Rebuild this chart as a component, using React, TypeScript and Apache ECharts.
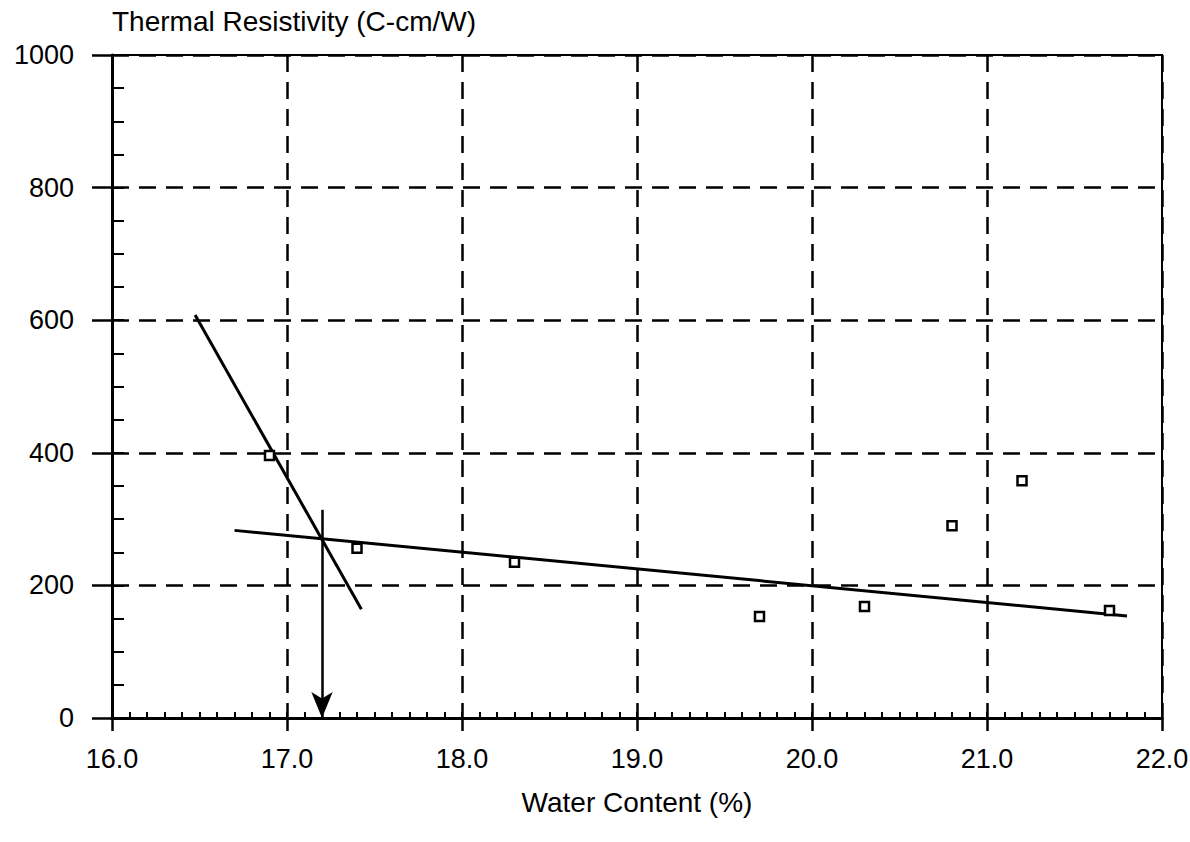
import React, { useEffect, useRef } from "react";
import * as echarts from "echarts";

// Measured data points (Water Content %, Thermal Resistivity C-cm/W)
const waterContent = [16.9, 17.4, 18.3, 19.7, 20.3, 20.8, 21.2, 21.7];
const resistivity = [396, 256, 235, 153, 168, 290, 358, 162];

// Fitted lines (end points)
const steepFitX = [16.475, 17.425];
const steepFitY = [608, 164];
const flatFitX = [16.7, 21.8];
const flatFitY = [283, 154];

// Critical water content arrow
const arrowX = 17.2;
const arrowTopY = 314;

const xTicks = [16, 17, 18, 19, 20, 21, 22];
const yTicks = [0, 200, 400, 600, 800, 1000];

const FONT = "'Liberation Sans', Arial, Helvetica, sans-serif";

export default function App() {
  const ref = useRef<HTMLDivElement>(null);
  useEffect(() => {
    if (!ref.current) return;
    const chart = echarts.init(ref.current, null, { renderer: "svg" });
    const black = "#000";
    const option: any = {
      animation: false,
      backgroundColor: "#fff",
      textStyle: { fontFamily: FONT },
      grid: {
        left: 112,
        right: 28,
        top: 55,
        bottom: 124,
        show: true,
        borderColor: black,
        borderWidth: 2,
        containLabel: false,
        outerBoundsMode: "none",
      },
      graphic: [
        {
          type: "text",
          x: 112,
          y: 21,
          style: {
            text: "Thermal Resistivity (C-cm/W)",
            font: `28px ${FONT}`,
            fill: black,
            verticalAlign: "middle",
          },
        },
        {
          type: "text",
          x: 637,
          y: 802,
          style: {
            text: "Water Content (%)",
            font: `28px ${FONT}`,
            fill: black,
            align: "center",
            verticalAlign: "middle",
          },
        },
      ],
      xAxis: [
        {
          type: "value",
          min: xTicks[0],
          max: xTicks[xTicks.length - 1],
          interval: 1,
          position: "bottom",
          axisLine: { show: true, onZero: false, lineStyle: { color: black, width: 3 } },
          axisTick: { show: true, length: 13, lineStyle: { color: black, width: 2.5 } },
          axisLabel: {
            margin: 27,
            fontSize: 27,
            color: black,
            fontFamily: FONT,
            formatter: (v: number) => v.toFixed(1),
          },
          splitLine: { show: true, lineStyle: { color: black, width: 2.5, type: [17, 10] } },
        },
        {
          type: "value",
          min: 16,
          max: 22,
          interval: 0.1,
          position: "bottom",
          axisLine: { show: false },
          axisLabel: { show: false },
          splitLine: { show: false },
          axisTick: { show: true, inside: true, length: 6, lineStyle: { color: black, width: 2 } },
        },
      ],
      yAxis: [
        {
          type: "value",
          min: yTicks[0],
          max: yTicks[yTicks.length - 1],
          interval: 200,
          position: "left",
          axisLine: { show: true, onZero: false, lineStyle: { color: black, width: 3 } },
          axisTick: { show: true, length: 20, lineStyle: { color: black, width: 2.5 } },
          axisLabel: {
            margin: 38,
            fontSize: 27,
            color: black,
            fontFamily: FONT,
            formatter: (v: number) => String(v),
          },
          splitLine: { show: true, lineStyle: { color: black, width: 2.5, type: [17, 10] } },
        },
        {
          type: "value",
          min: 0,
          max: 1000,
          interval: 50,
          position: "left",
          axisLine: { show: false },
          axisLabel: { show: false },
          splitLine: { show: false },
          axisTick: { show: true, inside: true, length: 12, lineStyle: { color: black, width: 2 } },
        },
      ],
      series: [
        {
          type: "line",
          xAxisIndex: 0,
          yAxisIndex: 0,
          data: steepFitX.map((x, i) => [x, steepFitY[i]]),
          symbol: "none",
          lineStyle: { color: black, width: 3 },
          z: 3,
        },
        {
          type: "line",
          xAxisIndex: 0,
          yAxisIndex: 0,
          data: flatFitX.map((x, i) => [x, flatFitY[i]]),
          symbol: "none",
          lineStyle: { color: black, width: 3 },
          z: 3,
          markLine: {
            silent: true,
            symbol: ["none", "arrow"],
            symbolSize: [16, 26],
            label: { show: false },
            lineStyle: { color: black, width: 2.5, type: "solid" },
            data: [[{ coord: [arrowX, arrowTopY] }, { coord: [arrowX, 0] }]],
          },
        },
        {
          type: "scatter",
          xAxisIndex: 0,
          yAxisIndex: 0,
          data: waterContent.map((x, i) => [x, resistivity[i]]),
          symbol: "rect",
          symbolSize: 9,
          itemStyle: { color: "#fff", borderColor: black, borderWidth: 2.5, opacity: 1 },
          z: 5,
        },
      ],
    };
    chart.setOption(option);
    return () => chart.dispose();
  }, []);
  return (
    <div
      ref={ref}
      style={{ position: "absolute", left: 0, top: 0, width: 1190, height: 842, background: "#fff" }}
    />
  );
}
